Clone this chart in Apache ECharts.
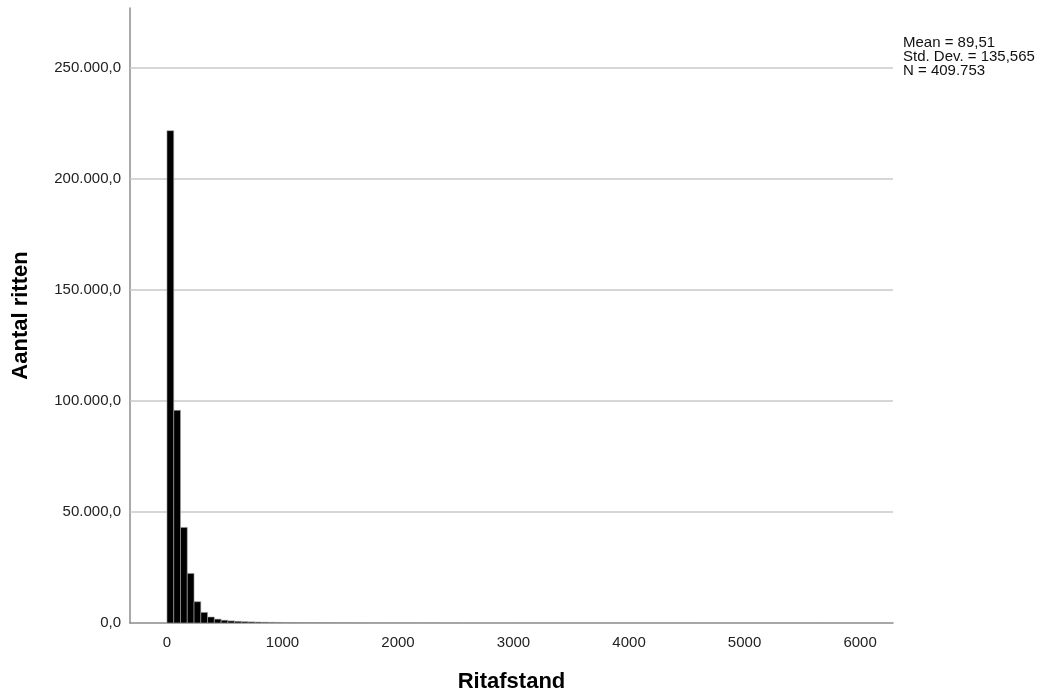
<!DOCTYPE html>
<html>
<head>
<meta charset="utf-8">
<script src="https://cdn.jsdelivr.net/npm/echarts@6/dist/echarts.min.js"></script>
<style>
  html, body { margin: 0; padding: 0; background: #fff; }
  #chart { width: 1046px; height: 699px; }
</style>
</head>
<body>
<div id="chart"></div>
<script>
// Histogram of trip distances (Ritafstand): bins start at 0, fixed width
const binWidth = 58.6;
const binCounts = [
  221750, 95770, 43060, 22340, 9600, 4780, 2700, 1750, 1250, 950,
  760, 610, 500, 420, 350, 300, 260, 225, 195, 170,
  150, 132, 117, 104, 93, 83, 74, 66, 59, 53,
  48, 43, 39, 35, 32, 29, 26, 24, 22, 20,
  18, 16, 15, 14, 13, 12, 11, 10, 9, 8,
  8, 7, 7, 6, 6, 5, 5, 4, 4, 4,
  3, 3, 3, 3, 2, 2, 2, 2, 2, 2,
  1, 1, 1, 1, 1, 1, 1, 1, 1, 0,
  1, 0, 1, 0, 0, 1, 0, 0, 1, 0,
  0, 0, 1, 0, 0, 0, 1, 0, 0, 0,
  0, 1, 0, 0, 1
];
const xTicks = [0, 1000, 2000, 3000, 4000, 5000, 6000];
const yTicks = [50000, 100000, 150000, 200000, 250000];
const statLines = ['Mean = 89,51', 'Std. Dev. = 135,565', 'N = 409.753'];

const bins = binCounts.map((c, i) => [i * binWidth, (i + 1) * binWidth, c]);

// Dutch number style for the count axis: 250.000,0
function fmtCount(v) {
  const s = Math.round(v).toString().replace(/\B(?=(\d{3})+(?!\d))/g, '.');
  return s + ',0';
}

const FONT = 'Liberation Sans, Arial, sans-serif';
const chart = echarts.init(document.getElementById('chart'), null, { renderer: 'canvas' });

chart.setOption({
  animation: false,
  backgroundColor: '#ffffff',
  textStyle: { fontFamily: FONT },
  grid: { left: 130, right: 153, top: 8, bottom: 76, containLabel: false },
  xAxis: {
    type: 'value',
    min: -320,
    max: 6285,
    splitNumber: 7,
    name: 'Ritafstand',
    nameLocation: 'middle',
    nameGap: 48,
    nameTextStyle: { fontSize: 22, fontWeight: 'bold', color: '#000', fontFamily: FONT },
    axisLine: { show: true, onZero: false, lineStyle: { color: '#8c8c8c', width: 1.5 } },
    axisTick: { show: false },
    splitLine: { show: false },
    axisLabel: {
      margin: 12,
      fontSize: 15,
      color: '#222',
      formatter: v => (xTicks.indexOf(v) >= 0 ? String(v) : '')
    }
  },
  yAxis: {
    type: 'value',
    min: 0,
    max: 277000,
    interval: 50000,
    name: 'Aantal ritten',
    nameLocation: 'middle',
    nameGap: 98,
    nameRotate: 90,
    nameTextStyle: { fontSize: 22, fontWeight: 'bold', color: '#000', fontFamily: FONT },
    axisLine: { show: true, onZero: false, lineStyle: { color: '#8c8c8c', width: 1.5 } },
    axisTick: { show: false },
    splitLine: { show: false },
    axisLabel: {
      margin: 9,
      fontSize: 15,
      color: '#222',
      showMaxLabel: false,
      formatter: v => (v === 0 || yTicks.indexOf(v) >= 0 ? fmtCount(v) : '')
    }
  },
  graphic: [{
    type: 'text',
    left: 903,
    top: 35,
    style: {
      text: statLines.join('\n'),
      font: '15px "Liberation Sans", Arial, sans-serif',
      fill: '#111',
      lineHeight: 14
    }
  }],
  series: [{
    type: 'custom',
    silent: true,
    data: bins,
    encode: { x: [0, 1], y: 2 },
    renderItem: function (params, api) {
      const c = api.value(2);
      if (!c) return null;
      const p0 = api.coord([api.value(0), 0]);
      const p1 = api.coord([api.value(1), c]);
      return {
        type: 'rect',
        shape: { x: p0[0], y: p1[1], width: p1[0] - p0[0], height: p0[1] - p1[1] },
        style: { fill: '#000', stroke: '#a8a8a8', lineWidth: 0.6 }
      };
    },
    z: 3,
    markLine: {
      silent: true,
      symbol: 'none',
      label: { show: false },
      lineStyle: { color: '#c8c8c8', width: 1.5, type: 'solid' },
      data: yTicks.map(v => ({ yAxis: v })),
      z: 1
    }
  }]
});
</script>
</body>
</html>
